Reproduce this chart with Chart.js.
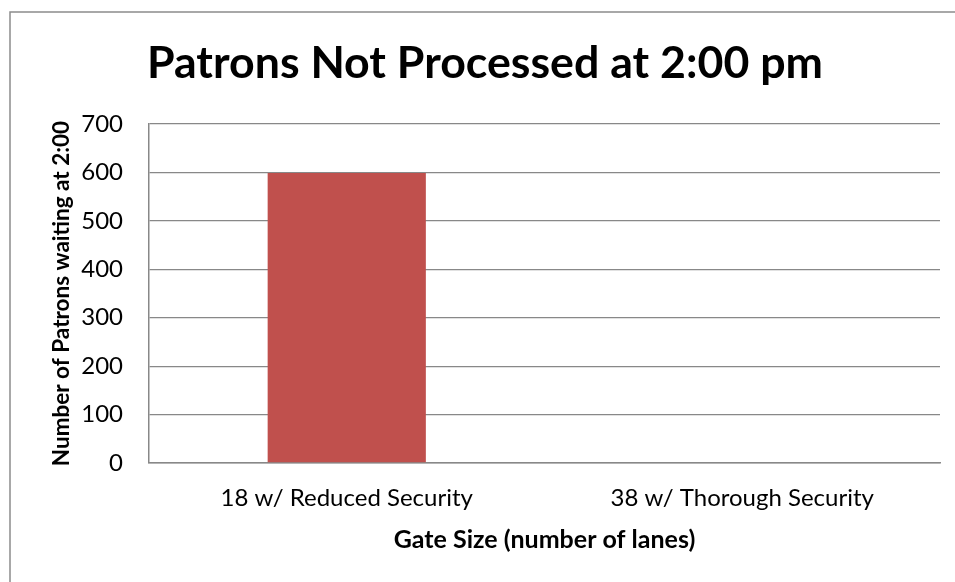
<!DOCTYPE html>
<html>
<head>
  <title>Patrons Not Processed</title>
  <script src="https://cdn.jsdelivr.net/npm/chart.js"></script>
  <style>
    html, body { margin: 0; padding: 0; background: #fff; }
    #wrap { position: relative; width: 955px; height: 582px; }
  </style>
</head>
<body>
  <div id="wrap"><canvas id="gateChart" width="955" height="582"></canvas></div>
  <script>
    const gateSizes = ['18 w/ Reduced Security', '38 w/ Thorough Security'];
    const patronsWaiting = [599, 0];
    const yTicks = [0, 100, 200, 300, 400, 500, 600, 700];

    // thin grey frame around the whole chart
    const frame = {
      id: 'frame',
      beforeDraw(chart) {
        const c = chart.ctx;
        c.save();
        c.strokeStyle = '#8c8c8c';
        c.lineWidth = 1.5;
        c.strokeRect(10, 12, 1200, 1000);
        c.restore();
      }
    };

    const ctx = document.getElementById('gateChart').getContext('2d');
    new Chart(ctx, {
      type: 'bar',
      data: {
        labels: gateSizes,
        datasets: [{
          label: 'Patrons waiting',
          data: patronsWaiting,
          backgroundColor: '#C0504D',
          barPercentage: 0.4,
          categoryPercentage: 1.0
        }]
      },
      options: {
        responsive: false,
        animation: false,
        layout: { padding: { left: 30, right: 15, top: 0, bottom: 27 } },
        plugins: {
          legend: { display: false },
          tooltip: { enabled: false },
          title: {
            display: true,
            text: 'Patrons Not Processed at 2:00 pm',
            color: '#000',
            font: { family: 'Lato', size: 44.7, weight: 'bold' },
            padding: { top: 37, bottom: 33.4 }
          }
        },
        scales: {
          x: {
            afterFit(scale) { scale.height = 92; },
            grid: { display: false, drawTicks: false },
            border: { display: true, color: '#888', width: 1.5 },
            ticks: {
              color: '#000',
              padding: 21,
              font: { family: 'Lato', size: 24 }
            },
            title: {
              display: true,
              text: 'Gate Size (number of lanes)',
              color: '#000',
              font: { family: 'Lato', size: 25, weight: 'bold' },
              padding: { top: 0, bottom: 0 }
            }
          },
          y: {
            min: 0,
            max: 700,
            afterBuildTicks(scale) {
              scale.ticks = yTicks.map(v => ({ value: v }));
            },
            afterFit(scale) { scale.width = 119; },
            grid: { color: '#888', lineWidth: 1.3, drawTicks: false },
            border: { display: true, color: '#888', width: 1.5 },
            ticks: {
              color: '#000',
              padding: 26,
              font: { family: 'Lato', size: 24 }
            },
            title: {
              display: true,
              text: 'Number of Patrons waiting at 2:00',
              color: '#000',
              font: { family: 'Lato', size: 22.5, weight: 'bold' },
              padding: { top: 18.5, bottom: 0 }
            }
          }
        }
      },
      plugins: [frame]
    });
  </script>
</body>
</html>
